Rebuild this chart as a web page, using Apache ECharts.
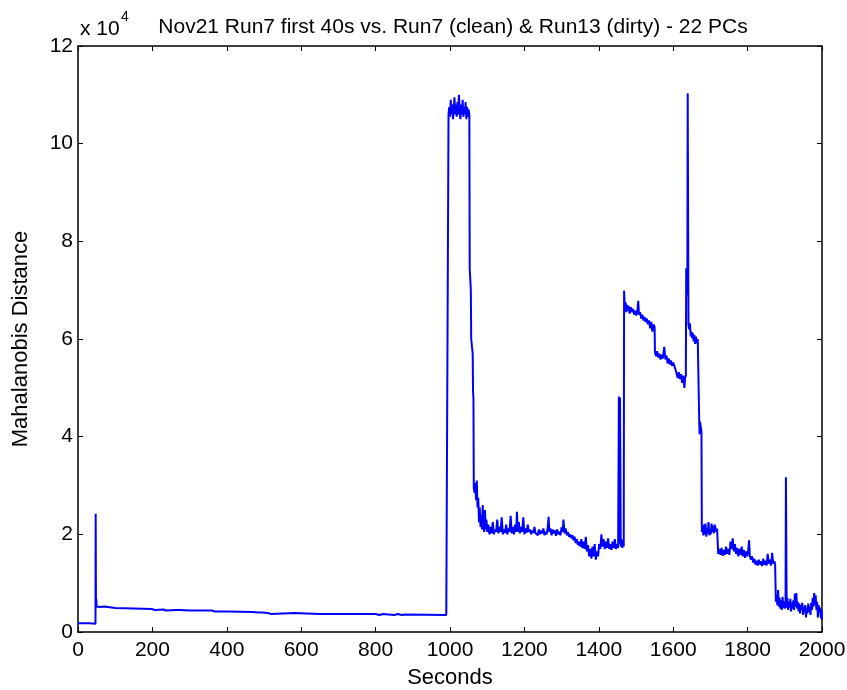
<!DOCTYPE html>
<html>
<head>
<meta charset="utf-8">
<script src="https://cdn.jsdelivr.net/npm/echarts@6/dist/echarts.min.js"></script>
<style>
html,body{margin:0;padding:0;background:#fff;}
#chart{width:847px;height:690px;}
</style>
</head>
<body>
<div id="chart"></div>
<script>
// Time in seconds
var seconds = [
0,31,32,47,47.5,48.3,49,50,55,60,70,75,80,90,100,150,198,200,203,207,212,230,236,240,265,270,275,300,360,368,400,470,485,490,495,510,520,525,580,585,650,735,737,740,800,810,820,850,860,870,880,990,995,
996,998,1000,1002,1004,1006,1008,1010,1012,1014,1016,1018,1020,1022,1024,1026,1028,1030,1032,1034,1036,1038,1040,1042,1044,1046,1048,1050,1052,
1053,1056,1057,1061,1062,1063,
1064,1066,1068,1070,1072,1074,1076,1078,1080,1082,1084,1086,1088,1090,1092,1094,1096,1098,1100,
1103,1106,1109,1112,1115,1118,1121,1124,1127,1130,1133,1136,1139,1142,1145,1148,1151,1154,1157,1160,1163,1166,1169,1172,1175,1178,1180,1182,1185,1188,1191,1194,1197,1200,
1203,1206,1209,1212,1215,1218,1221,1224,1227,1230,1233,1236,1239,1242,1245,1248,1251,1254,1257,1260,1263,1265,1267,1270,1273,1276,1279,1282,1285,1288,1291,1294,1297,1300,
1303,1305,1308,1311,1314,1317,1320,1323,1326,1329,1332,1335,1338,1341,1344,1347,1350,1353,1356,1359,1362,1365,1368,1371,1374,1377,1380,1383,1386,1389,1392,1395,1398,
1401,1404,1407,1410,1413,1416,1419,1422,1425,1428,1431,1434,1437,1440,1443,1446,1449,1452,1454,1456,1457,1459,1461,1463,1465,1467,
1468,1470,1472,1474,1476,1478,1480,1483,1486,1489,1492,1495,1498,1501,1504,1506,1508,1511,1514,1517,1520,1523,1526,1529,1532,1535,1538,1541,1544,1547,1550,
1551,1554,1557,1560,1563,1566,1569,1572,1576,1579,1582,1585,1588,1591,1594,1597,1600,1603,1606,1609,1612,1615,1618,1621,1624,1627,1630,1632,1634,
1635,1636,1637,1638,1639,1641,1643,1645,1647,1649,1651,1653,1655,1657,1659,1661,1663,1666,1670,1671,1672,1676,
1677,1679,1681,1683,1685,1687,1689,1691,1693,1695,1697,1699,1701,1703,1705,1707,1709,1712,1715,1718,
1721,1724,1727,1730,1733,1736,1739,1742,1745,1748,1751,1754,1757,1760,1763,1766,1769,1772,1775,1778,1781,1784,1787,1790,1793,1796,1799,1802,1804,1806,
1809,1812,1815,1818,1821,1824,1827,1830,1833,1836,1839,1842,1845,1848,1851,1854,1857,1860,1863,1866,1869,1872,1874,
1876,1878,1880,1882,1884,1886,1888,1890,1892,1894,1896,1898,1900,1902,1903,1905,1907,1909,1911,1913,1915,1917,1919,1921,1923,1925,1927,1929,1931,1933,1935,1937,1939,1941,1943,1945,1947,1949,
1951,1953,1955,1957,1959,1961,1963,1965,1967,1969,1971,1973,1975,1977,1979,1981,1983,1985,1987,1989,1991,1993,1995,1997,1999,2000
];
// Mahalanobis distance, in units of 10^4
var distance = [
0.18,0.18,0.17,0.17,2.42,0.55,0.68,0.52,0.53,0.51,0.52,0.50,0.51,0.50,0.49,0.48,0.47,0.45,0.47,0.45,0.47,0.46,0.44,0.46,0.45,0.43,0.45,0.44,0.44,0.42,0.42,0.41,0.40,0.38,0.40,0.39,0.37,0.39,0.39,0.37,0.37,0.37,0.35,0.37,0.37,0.35,0.37,0.35,0.37,0.35,0.36,0.35,0.36,
10.6,10.75,10.55,10.9,10.6,10.8,10.5,10.7,10.95,10.6,10.8,10.55,10.85,10.6,11.0,10.7,10.5,10.8,10.6,10.9,10.55,10.75,10.6,10.85,10.5,10.75,10.55,10.7,10.6,
7.45,7.0,6.0,5.7,4.9,4.8,
2.95,2.85,3.05,2.70,3.10,2.55,2.75,2.25,2.55,2.15,2.40,2.10,2.60,2.15,2.05,2.50,2.10,2.30,2.05,
2.20,2.00,2.15,2.02,2.25,2.00,2.10,2.05,2.30,2.02,2.15,2.05,2.35,2.00,2.10,2.03,2.20,2.00,2.12,2.05,2.38,2.02,2.15,2.00,2.20,2.05,2.46,2.05,2.25,2.02,2.15,2.05,2.35,2.00,
2.12,2.03,2.20,2.05,2.10,2.00,2.08,2.03,2.15,2.02,2.05,1.98,2.10,2.00,2.08,2.02,2.12,1.98,2.05,2.00,2.15,2.36,2.05,2.12,1.98,2.10,2.02,2.08,1.97,2.10,2.00,2.05,1.98,2.15,
2.05,2.30,2.02,2.12,1.98,2.05,1.95,2.00,1.92,1.98,1.88,1.95,1.82,1.90,1.78,1.85,1.75,1.90,1.72,1.85,1.70,1.95,1.65,1.78,1.55,1.70,1.50,1.75,1.55,1.80,1.48,1.65,1.55,
1.80,1.70,2.00,1.75,1.90,1.70,1.85,1.72,1.92,1.70,1.80,1.68,1.85,1.72,1.90,1.70,1.80,1.72,4.82,1.80,4.80,1.75,1.90,1.72,1.85,1.75,
6.99,6.60,6.75,6.55,6.70,6.58,6.68,6.52,6.65,6.55,6.62,6.50,6.58,6.48,6.60,6.78,6.50,6.55,6.42,6.50,6.38,6.45,6.35,6.42,6.30,6.38,6.22,6.35,6.15,6.30,6.25,
5.72,5.65,5.75,5.62,5.70,5.58,5.68,5.60,5.84,5.58,5.66,5.50,5.60,5.48,5.56,5.45,5.52,5.45,5.38,5.30,5.20,5.32,5.18,5.28,5.10,5.25,5.00,5.20,5.25,
7.45,7.00,7.40,6.90,11.03,6.30,6.20,6.32,6.05,6.15,6.02,6.12,5.95,6.08,5.90,6.05,5.92,6.00,4.30,4.05,4.31,4.10,
2.05,2.15,1.98,2.20,2.00,2.22,1.95,2.12,2.02,2.25,1.98,2.10,2.00,2.22,2.05,2.18,2.02,2.20,2.05,2.12,
1.60,1.70,1.58,1.72,1.56,1.68,1.58,1.75,1.60,1.70,1.58,1.85,1.70,1.92,1.65,1.80,1.60,1.72,1.55,1.70,1.58,1.75,1.55,1.68,1.52,1.65,1.55,1.70,1.88,1.55,
1.48,1.55,1.42,1.50,1.38,1.46,1.36,1.48,1.38,1.45,1.35,1.50,1.38,1.46,1.36,1.60,1.40,1.48,1.36,1.62,1.40,1.45,1.38,
0.62,0.75,0.55,0.86,0.52,0.70,0.48,0.65,0.45,0.72,0.50,0.62,0.48,0.55,3.17,0.50,0.70,0.45,0.62,0.50,0.68,0.42,0.60,0.48,0.65,0.45,0.78,0.52,0.80,0.48,0.62,0.42,0.58,0.38,0.55,0.45,0.60,0.35,
0.52,0.40,0.55,0.30,0.50,0.38,0.58,0.42,0.52,0.35,0.60,0.45,0.70,0.52,0.80,0.55,0.75,0.45,0.62,0.30,0.55,0.40,0.50,0.28,0.45,0.25
];
var xTicks = [0,200,400,600,800,1000,1200,1400,1600,1800,2000];
var yTicks = [0,2,4,6,8,10,12];

var titleText = 'Nov21 Run7 first 40s vs. Run7 (clean) & Run13 (dirty) - 22 PCs';
var FONT = '"Liberation Sans", Arial, Helvetica, sans-serif';

var lineData = seconds.map(function (s, i) { return [s, distance[i]]; });

var chart = echarts.init(document.getElementById('chart'), null, {renderer: 'canvas'});

function axisCommon(show, margin) {
  return {
    axisLine: {show: true, onZero: false, lineStyle: {color: '#000', width: 1.5}},
    axisTick: {show: true, inside: true, length: 5, lineStyle: {color: '#000', width: 1}},
    splitLine: {show: false},
    axisLabel: {show: show, color: '#000', fontSize: 21, fontFamily: FONT, margin: margin,
      formatter: function (v) { return String(v); }}
  };
}

var option = {
  animation: false,
  backgroundColor: '#fff',
  grid: {left: 78, right: 25, top: 46, bottom: 58, containLabel: false, outerBoundsMode: 'none'},
  graphic: [
    {type: 'text', x: 453, y: 27, style: {text: titleText, font: '21px ' + FONT, fill: '#000', textAlign: 'center', textVerticalAlign: 'middle'}},
    {type: 'text', x: 80, y: 29, style: {text: 'x 10', font: '21px ' + FONT, fill: '#000', textAlign: 'left', textVerticalAlign: 'middle'}},
    {type: 'text', x: 121, y: 17, style: {text: '4', font: '14px ' + FONT, fill: '#000', textAlign: 'left', textVerticalAlign: 'middle'}}
  ],
  xAxis: [
    Object.assign(axisCommon(true, 8), {
      type: 'value', min: xTicks[0], max: xTicks[xTicks.length - 1], interval: 200, position: 'bottom',
      name: 'Seconds', nameLocation: 'middle', nameGap: 35,
      nameTextStyle: {color: '#000', fontSize: 22, fontFamily: FONT}
    }),
    Object.assign(axisCommon(false, 8), {
      type: 'value', min: xTicks[0], max: xTicks[xTicks.length - 1], interval: 200, position: 'top'
    })
  ],
  yAxis: [
    Object.assign(axisCommon(true, 5), {
      type: 'value', min: yTicks[0], max: yTicks[yTicks.length - 1], interval: 2, position: 'left',
      name: 'Mahalanobis Distance', nameLocation: 'middle', nameGap: 46,
      nameTextStyle: {color: '#000', fontSize: 22, fontFamily: FONT}
    }),
    Object.assign(axisCommon(false, 8), {
      type: 'value', min: yTicks[0], max: yTicks[yTicks.length - 1], interval: 2, position: 'right'
    })
  ],
  series: [{
    type: 'line',
    xAxisIndex: 0,
    yAxisIndex: 0,
    data: lineData,
    showSymbol: false,
    symbol: 'none',
    lineStyle: {color: '#0000ff', width: 2},
    itemStyle: {color: '#0000ff'},
    silent: true
  }]
};
chart.setOption(option);
</script>
</body>
</html>
